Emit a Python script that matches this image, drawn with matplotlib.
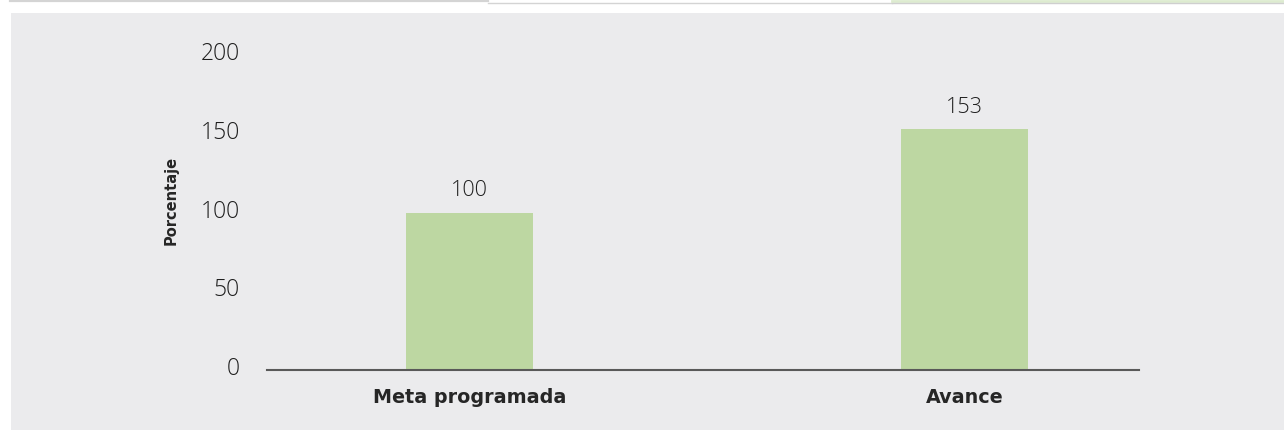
import matplotlib
matplotlib.use("Agg")
import matplotlib.pyplot as plt
from matplotlib.patches import Rectangle
from matplotlib.lines import Line2D
import matplotlib.transforms as mtransforms

categories = ["Meta programada", "Avance"]
values = [100, 153]
value_labels = ["100", "153"]
yticks = [0, 50, 100, 150, 200]
ylabel = "Porcentaje"

W, H = 1284, 430
fig = plt.figure(figsize=(W / 100, H / 100), dpi=100, facecolor="white")

bg = "#EBEBED"
fig.patches.append(Rectangle((11 / W, 0), 1 - 11 / W, 1 - 13 / H, transform=fig.transFigure,
                             facecolor=bg, edgecolor="none", zorder=-10))
# top decorative strip
fig.lines.append(Line2D([10 / W, 488 / W], [1 - 1 / H, 1 - 1 / H], transform=fig.transFigure,
                        color="#D4D4D4", lw=1.6, zorder=-5))
fig.lines.append(Line2D([488 / W, 892 / W], [1 - 2.5 / H, 1 - 2.5 / H], transform=fig.transFigure,
                        color="#D4D4D4", lw=1.0, zorder=-5))
fig.lines.append(Line2D([892 / W, 1], [1 - 1.2 / H, 1 - 1.2 / H], transform=fig.transFigure,
                        color="#DDEBCF", lw=2.0, zorder=-5))
fig.lines.append(Line2D([892 / W, 1], [1 - 3.3 / H, 1 - 3.3 / H], transform=fig.transFigure,
                        color="#CFCFCF", lw=1.0, zorder=-5))

ax = fig.add_axes([267 / W, 1 - 370 / H, (1139 - 267) / W, (370 - 55) / H])
ax.set_facecolor("none")
ax.set_zorder(5)

x = list(range(len(categories)))
bars = ax.bar(x, values, width=0.2566, color="#BDD7A2", zorder=2)
ax.set_xlim(-0.409, 1.3525)
ax.set_ylim(0, 200)

txt = "#262626"
numcol = "#1E1E1E"
numfont = dict(family="Open Sans", fontweight="light")
for xi, v, lab in zip(x, values, value_labels):
    ax.annotate(lab, (xi, v), xytext=(0, 8), textcoords="offset points",
                ha="center", va="bottom", fontsize=15.5, color=numcol, **numfont)

ax.set_yticks(yticks)
ax.set_yticklabels([str(t) for t in yticks], fontsize=16.5, color=numcol, **numfont)
ax.tick_params(axis="y", length=0, pad=19.5)
offset = mtransforms.ScaledTranslation(0, 4 / 100, fig.dpi_scale_trans)
for lbl in ax.get_yticklabels():
    lbl.set_transform(lbl.get_transform() + offset)

ax.set_xticks(x)
ax.set_xticklabels(categories, fontsize=13.8, fontweight="bold", color=txt, family="DejaVu Sans")
ax.tick_params(axis="x", length=0, pad=13)

for s in ["top", "right", "left"]:
    ax.spines[s].set_visible(False)
ax.spines["bottom"].set_color("#595959")
ax.spines["bottom"].set_linewidth(1.5)

fig.text(171 / W, 1 - 200 / H, ylabel, rotation=90, ha="center", va="center",
         fontsize=10.5, fontweight="bold", color=txt, family="DejaVu Sans", zorder=6)

fig.savefig("out.png", dpi=100, facecolor="white")
